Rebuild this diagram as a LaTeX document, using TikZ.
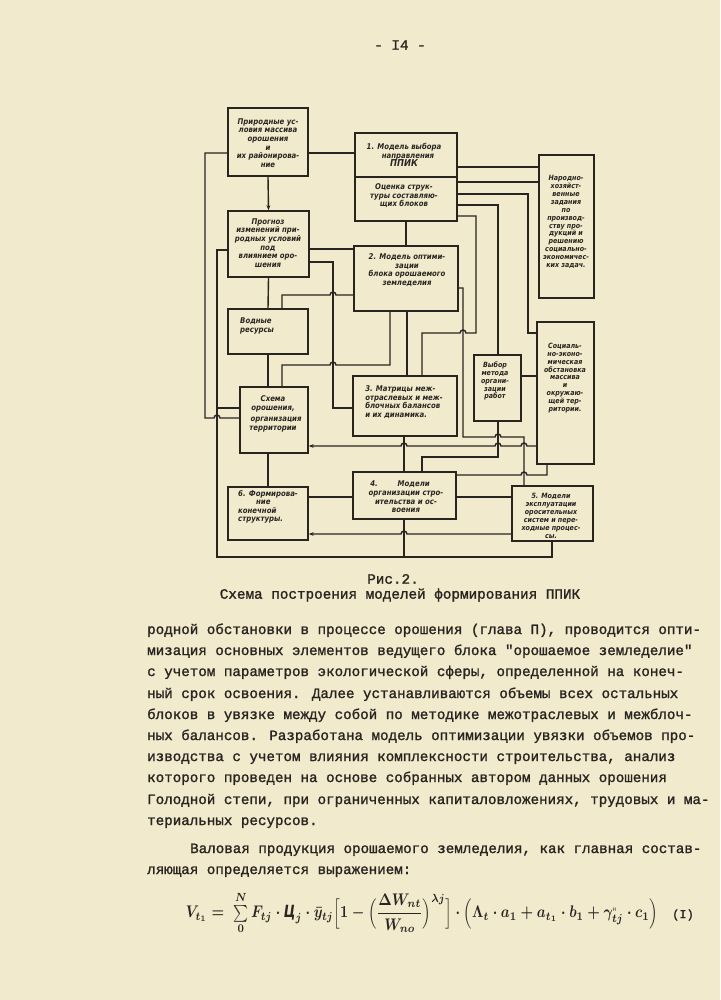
\documentclass[tikz,border=0pt]{standalone}
\usepackage[no-math]{fontspec}
\usepackage{amsmath}
\usepackage{graphicx}
\usetikzlibrary{arrows.meta}
\setmainfont{Liberation Serif}
\newfontfamily\tw[FakeBold=1.4]{Liberation Mono}
\newfontfamily\hand[FakeStretch=0.88]{DejaVu Sans}
\definecolor{paper}{RGB}{241,234,204}
\definecolor{ink}{RGB}{40,37,33}
\begin{document}
\begin{tikzpicture}[x=1pt,y=-1pt,
  box/.style={draw=ink,line width=1.5pt,inner sep=0pt},
  ln/.style={draw=ink,line width=1.4pt},
  arr/.style={-{Stealth[length=5pt,width=3.8pt]}},
  txt/.style={text=ink,inner sep=0pt,align=center,font=\hand\bfseries\itshape\fontsize{7.9}{8.6}\selectfont},
  txs/.style={text=ink,inner sep=0pt,align=center,font=\hand\bfseries\itshape\fontsize{7.2}{7.9}\selectfont},
  body/.style={text=ink,inner sep=0pt,anchor=base west,font=\tw\fontsize{14.2}{17}\selectfont},
  captxt/.style={text=ink,inner sep=0pt,font=\tw\fontsize{14.3}{17}\selectfont},
]
\useasboundingbox (0,0) rectangle (720,1000);
\fill[paper] (0,0) rectangle (720,1000);

% ---------- boxes ----------
\node[box,minimum width=80pt,minimum height=68pt] (A) at (268,142) {};
\node[box,minimum width=102pt,minimum height=44pt] (B1a) at (406,155) {};
\node[box,minimum width=102pt,minimum height=44pt] (B1b) at (406,199) {};
\node[box,minimum width=55pt,minimum height=143pt] (N) at (566.5,226.5) {};
\node[box,minimum width=81pt,minimum height=66pt] (P) at (268.5,244) {};
\node[box,minimum width=104pt,minimum height=65pt] (B2) at (406,278.5) {};
\node[box,minimum width=80pt,minimum height=45pt] (W) at (268,331.5) {};
\node[box,minimum width=68pt,minimum height=66pt] (S) at (274,420) {};
\node[box,minimum width=104pt,minimum height=60pt] (B3) at (405,406) {};
\node[box,minimum width=47pt,minimum height=66pt] (V) at (497.5,388) {};
\node[box,minimum width=57pt,minimum height=142pt] (SE) at (565.5,393) {};
\node[box,minimum width=80pt,minimum height=53pt] (B6) at (268,513.5) {};
\node[box,minimum width=103pt,minimum height=47pt] (B4) at (404.5,495.5) {};
\node[box,minimum width=81pt,minimum height=55pt] (B5) at (552.5,513.5) {};

% ---------- box texts ----------
\node[txt] (tA) at (268,143) {Природные ус-\\ловия массива\\орошения\\и\\их районирова-\\ние};
\node[txt] (t1a) at (404,155) {1. Модель выбора\\\hspace*{8pt}направления\\{\fontsize{9.5}{10}\selectfont ППИК}};
\node[txt] (t1b) at (404,196) {Оценка струк-\\туры составляю-\\щих блоков};
\node[txs] (tN) at (566,222) {Народно-\\хозяйст-\\венные\\задания\\по\\производ-\\ству про-\\дукций и\\решению\\социально-\\экономичес-\\ких задач.};
\node[txt] (tP) at (268,243) {Прогноз\\изменений при-\\родных условий\\под\\влиянием оро-\\шения};
\node[txt] (t2) at (407,270) {2. Модель оптими-\\зации\\блока орошаемого\\земледелия};
\node[txt,align=left,anchor=west] (tW) at (240,326) {Водные\\ресурсы};
\node[txt] (tS) at (273,414) {Схема\\орошения,\\[3pt]\hspace*{6pt}организация\\территории};
\node[txt,align=left] (t3) at (404,402) {3. Матрицы меж-\\отраслевых и меж-\\блочных балансов\\и их динамика.};
\node[txs] (tV) at (495,381) {Выбор\\метода\\органи-\\зации\\работ};
\node[txs] (tSE) at (565,378) {Социаль-\\но-эконо-\\мическая\\обстановка\\массива\\и\\окружаю-\\щей тер-\\ритории.};
\node[txt,align=left] (t6) at (268,507) {6. Формирова-\\\hspace*{18pt}ние\\конечной\\структуры.};
\node[txt] (t4) at (406,497) {4.\hspace*{20pt}Модели\hspace*{12pt}\\организации стро-\\ительства и ос-\\воения};
\node[txs] (t5) at (551,516) {5. Модели\\эксплуатации\\оросительных\\систем и пере-\\ходные процес-\\сы.};

% ---------- connectors ----------
\draw[ln] (A.east |- 0,153) -- (B1a.west |- 0,153);
\draw[ln,arr] (A.south) -- (P.north);
\draw[ln] (A.west |- 0,153) -- (205,153) -- (205,418) -- (214,418) arc[start angle=180,end angle=0,radius=3pt] -- (S.west |- 0,418);
\draw[ln] (P.west |- 0,250) -- (217,250) -- (217,557) -- (552,557) -- (552,0 |- B5.south);
\draw[ln] (217,408) -- (S.west |- 0,408);
\draw[ln] (B1b.south) -- (B2.north);
\draw[ln] (P.east |- 0,249) -- (B2.west |- 0,249);
\draw[ln] (P.east |- 0,262) -- (333,262) -- (333,408) -- (B3.west |- 0,408);
\draw[ln] (P.south) -- (W.north);
\draw[ln] (282,0 |- W.north) -- (282,295) -- (330,295) arc[start angle=180,end angle=0,radius=3pt] -- (B2.west |- 0,295);
\draw[ln] (W.south) -- (S.north -| 268,0);
\draw[ln] (282,0 |- S.north) -- (282,365) -- (330,365) arc[start angle=180,end angle=0,radius=3pt] -- (390,365) -- (390,0 |- B2.south);
\draw[ln] (407,0 |- B2.south) -- (407,0 |- B3.north);
\draw[ln] (B1a.east |- 0,167) -- (N.west |- 0,167);
\draw[ln] (B1b.east |- 0,182) -- (N.west |- 0,182);
\draw[ln] (B1b.east |- 0,194) -- (528,194) -- (528,333) -- (SE.west |- 0,333);
\draw[ln] (B1b.east |- 0,205) -- (498,205) -- (498,0 |- V.north);
\draw[ln] (B1b.east |- 0,216) -- (476,216) -- (476,333) -- (466,333) arc[start angle=0,end angle=180,radius=3pt] -- (422,333) -- (422,0 |- B3.north);
\draw[ln] (B2.east |- 0,288) -- (463,288) -- (463,437) -- (495,437) arc[start angle=180,end angle=0,radius=3pt] -- (524,437) -- (524,0 |- B5.north);
\draw[ln] (V.east |- 0,376) -- (SE.west |- 0,376);
\draw[ln] (498,0 |- V.south) -- (498,457) -- (422,457) -- (422,0 |- B4.north);
\draw[ln,arr] (SE.west |- 0,446) -- (527,446) arc[start angle=0,end angle=180,radius=3pt] -- (501,446) arc[start angle=0,end angle=180,radius=3pt] -- (407,446) arc[start angle=0,end angle=180,radius=3pt] -- (S.east |- 0,446);
\draw[ln] (404,0 |- B3.south) -- (404,0 |- B4.north);
\draw[ln] (B4.east |- 0,475) -- (521,475) arc[start angle=180,end angle=0,radius=3pt] -- (547,475) -- (547,0 |- SE.south);
\draw[ln] (B6.east |- 0,497) -- (B4.west |- 0,497);
\draw[ln] (B4.east |- 0,497) -- (B5.west |- 0,497);
\draw[ln,arr] (B5.west |- 0,534) -- (407,534) arc[start angle=0,end angle=180,radius=3pt] -- (B6.east |- 0,534);
\draw[ln] (404,0 |- B4.south) -- (404,557);
\draw[ln] (268,0 |- S.south) -- (268,0 |- B6.north);

% ---------- page texts ----------
\node[captxt] (pg) at (400,45) {- I4 -};
\node[captxt] (cap1) at (393,579) {Рис.2.};
\node[captxt] (cap2) at (400,595) {Схема построения моделей формирования ППИК};

\node[body] (L1) at (147,634) {родной обстановки в процессе орошения (глава П), проводится опти-};
\node[body] (L2) at (147,655) {мизация основных элементов ведущего блока "орошаемое земледелие"};
\node[body] (L3) at (147,676) {с учетом параметров экологической сферы, определенной на конеч-};
\node[body] (L4) at (147,698) {ный срок освоения. Далее устанавливаются объемы всех остальных};
\node[body] (L5) at (147,719) {блоков в увязке между собой по методике межотраслевых и межблоч-};
\node[body] (L6) at (147,740) {ных балансов. Разработана модель оптимизации увязки объемов про-};
\node[body] (L7) at (147,761) {изводства с учетом влияния комплексности строительства, анализ};
\node[body] (L8) at (147,782) {которого проведен на основе собранных автором данных орошения};
\node[body] (L9) at (147,804) {Голодной степи, при ограниченных капиталовложениях, трудовых и ма-};
\node[body] (L10) at (147,825) {териальных ресурсов.};
\node[body] (L11) at (190,853) {Валовая продукция орошаемого земледелия, как главная состав-};
\node[body] (L12) at (147,874) {ляющая определяется выражением:};

\node[text=ink,inner sep=0pt] (F) at (422,913) {\resizebox*{472pt}{42pt}{\boldmath$V_{t_1}=\;\sum\limits_{0}^{N}F_{tj}\cdot\mbox{\hand\bfseries\itshape Ц}_j\cdot\bar{y}_{tj}\Bigl[1-\Bigl(\dfrac{\Delta W_{nt}}{W_{no}}\Bigr)^{\lambda j}\Bigr]\cdot\Bigl(\Lambda_t\cdot a_1+a_{t_1}\cdot b_1+\gamma_{tj}^{\mbox{\hand\fontsize{4}{4}\selectfont н}}\cdot c_1\Bigr)$}};
\node[captxt,font=\tw\fontsize{12}{14}\selectfont] (FI) at (683,915) {(I)};
\end{tikzpicture}
\end{document}
